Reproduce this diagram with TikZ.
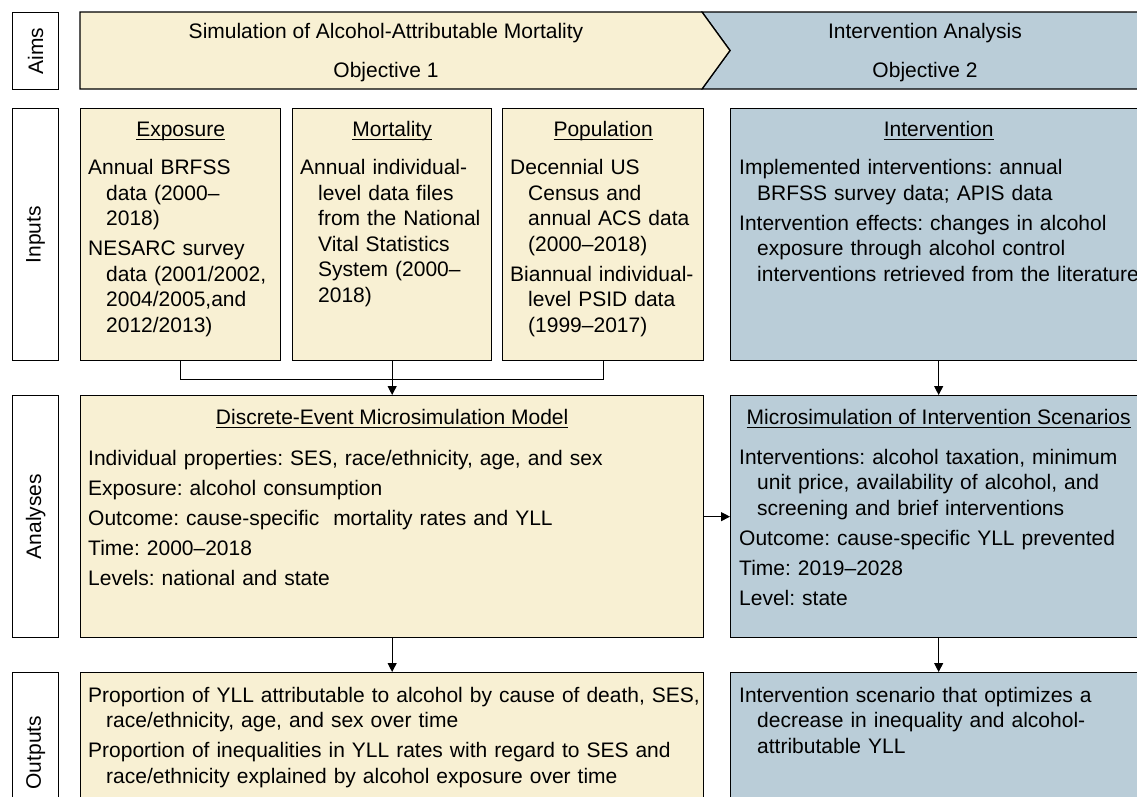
\documentclass[tikz,border=0pt]{standalone}
\usepackage{fontspec}
\setmainfont{Liberation Sans}
\usepackage{graphicx}
\usetikzlibrary{arrows.meta, positioning}

\definecolor{simfill}{RGB}{248,240,211}
\definecolor{intfill}{RGB}{186,205,216}
\newcommand{\litem}[1]{\hangindent=18pt\hangafter=1\noindent\strut#1\par}
\newcommand{\ulhead}[1]{\setbox0\hbox{#1}\rlap{\rule[-3.5pt]{\wd0}{1.1pt}}\box0}
\frenchspacing

\begin{document}
\begin{tikzpicture}[
    x=1pt, y=-1pt, >={Triangle[length=9pt,width=9pt]},
    every node/.append style={font=\fontsize{21pt}{25.5pt}\selectfont},
    rowlabel/.style={draw, line width=1.3pt, minimum width=46pt,
                     anchor=north west, inner sep=0pt},
    box/.style={draw, line width=1.3pt, anchor=north west, inner sep=0pt},
    heading/.style={inner sep=0pt},
    itemlist/.style={inner sep=0pt, align=left, text width=#1,
                     execute at begin node={\setlength{\parskip}{4.5pt}}},
    link/.style={line width=1.1pt}
  ]
  \useasboundingbox (0,0) rectangle (1137,796);
  \clip (0,0) rectangle (1137,796);

  \node[rowlabel, minimum height=77pt] (aims) at (12,12) {\rotatebox{90}{Aims}};
  \node[rowlabel, minimum height=252pt] (inputs) at (12,108) {\rotatebox{90}{Inputs}};
  \node[rowlabel, minimum height=242pt] (analyses) at (12,395) {\rotatebox{90}{Analyses}};
  \node[rowlabel, minimum height=160pt] (outputs) at (12,672) {\rotatebox{90}{Outputs}};

  \filldraw[fill=intfill, line width=1.3pt]
    (702,12) -- (1160,12) -- (1160,89) -- (702,89) -- (730,50.5) -- cycle;
  \filldraw[fill=simfill, line width=1.3pt]
    (80,12) -- (702,12) -- (730,50.5) -- (702,89) -- (80,89) -- cycle;
  \node[align=center, font=\fontsize{21pt}{39pt}\selectfont] (aim1) at (386,52.5)
    {Simulation of Alcohol-Attributable Mortality\\Objective 1};
  \node[align=center, font=\fontsize{21pt}{39pt}\selectfont] (aim2) at (925,52.5)
    {Intervention Analysis\\Objective 2};

  \node[box, fill=simfill, minimum width=200pt, minimum height=252pt] (expo) at (80,108) {};
  \node[box, fill=simfill, minimum width=199pt, minimum height=252pt] (mort) at (292,108) {};
  \node[box, fill=simfill, minimum width=201pt, minimum height=252pt] (popu) at (502,108) {};
  \node[box, fill=intfill, minimum width=416pt, minimum height=252pt] (intv) at (730,108) {};

  \node[heading, below=10.6pt of expo.north] {\strut\ulhead{Exposure}};
  \node[heading, below=10.6pt of mort.north] {\strut\ulhead{Mortality}};
  \node[heading, below=10.6pt of popu.north] {\strut\ulhead{Population}};
  \node[heading, below=10.6pt of intv.north] {\strut\ulhead{Intervention}};

  \node[itemlist=190pt, below right=48.6pt and 8pt of expo.north west] (expotxt) {%
    \litem{Annual BRFSS\newline data (2000--\newline 2018)}
    \litem{NESARC survey\newline data (2001/2002,\newline 2004/2005,and\newline 2012/2013)}};
  \node[itemlist=190pt, below right=48.6pt and 8pt of mort.north west] (morttxt) {%
    \litem{Annual individual-\newline level data files\newline from the National\newline
      Vital Statistics\newline System (2000--\newline 2018)}};
  \node[itemlist=195pt, below right=48.6pt and 8pt of popu.north west] (poputxt) {%
    \litem{Decennial US\newline Census and\newline annual ACS data\newline (2000--2018)}
    \litem{Biannual individual-\newline level PSID data\newline (1999--2017)}};
  \node[itemlist=410pt, below right=48.6pt and 9pt of intv.north west] (intvtxt) {%
    \litem{Implemented interventions: annual\newline BRFSS survey data; APIS data}
    \litem{Intervention effects: changes in alcohol\newline exposure through alcohol control\newline
      interventions retrieved from the literature}};

  \node[box, fill=simfill, minimum width=623pt, minimum height=242pt] (dem) at (80,395) {};
  \node[box, fill=intfill, minimum width=416pt, minimum height=242pt] (mic) at (730,395) {};

  \node[heading, below=11.6pt of dem.north] {\strut\ulhead{Discrete-Event Microsimulation Model}};
  \node[heading, below=11.6pt of mic.north] {\strut\ulhead{Microsimulation of Intervention Scenarios}};

  \node[itemlist=610pt, below right=52.4pt and 8pt of dem.north west] (demtxt) {%
    \litem{Individual properties: SES, race/ethnicity, age, and sex}
    \litem{Exposure: alcohol consumption}
    \litem{Outcome: cause-specific\ \ mortality rates and YLL}
    \litem{Time: 2000--2018}
    \litem{Levels: national and state}};
  \node[itemlist=410pt, below right=51.2pt and 9pt of mic.north west] (mictxt) {%
    \litem{Interventions: alcohol taxation, minimum\newline unit price, availability of alcohol, and\newline
      screening and brief interventions}
    \litem{Outcome: cause-specific YLL prevented}
    \litem{Time: 2019--2028}
    \litem{Level: state}};

  \node[box, fill=simfill, minimum width=623pt, minimum height=160pt] (prop) at (80,672) {};
  \node[box, fill=intfill, minimum width=416pt, minimum height=160pt] (optim) at (730,672) {};

  \node[itemlist=615pt, below right=12.4pt and 8pt of prop.north west] (proptxt) {%
    \litem{Proportion of YLL attributable to alcohol by cause of death, SES,\newline
      race/ethnicity, age, and sex over time}
    \litem{Proportion of inequalities in YLL rates with regard to SES and\newline
      race/ethnicity explained by alcohol exposure over time}};
  \node[itemlist=410pt, below right=12.4pt and 9pt of optim.north west] (optimtxt) {%
    \litem{Intervention scenario that optimizes a\newline decrease in inequality and alcohol-\newline
      attributable YLL}};

  \draw[link] (expo.south) -- ++(0,18) -| (popu.south);
  \draw[link, ->] (mort.south) -- (dem.north);
  \draw[link, ->] (intv.south) -- (mic.north);
  \draw[link, ->] (dem.east) -- (mic.west);
  \draw[link, ->] (dem.south) -- (prop.north);
  \draw[link, ->] (mic.south) -- (optim.north);
\end{tikzpicture}
\end{document}
